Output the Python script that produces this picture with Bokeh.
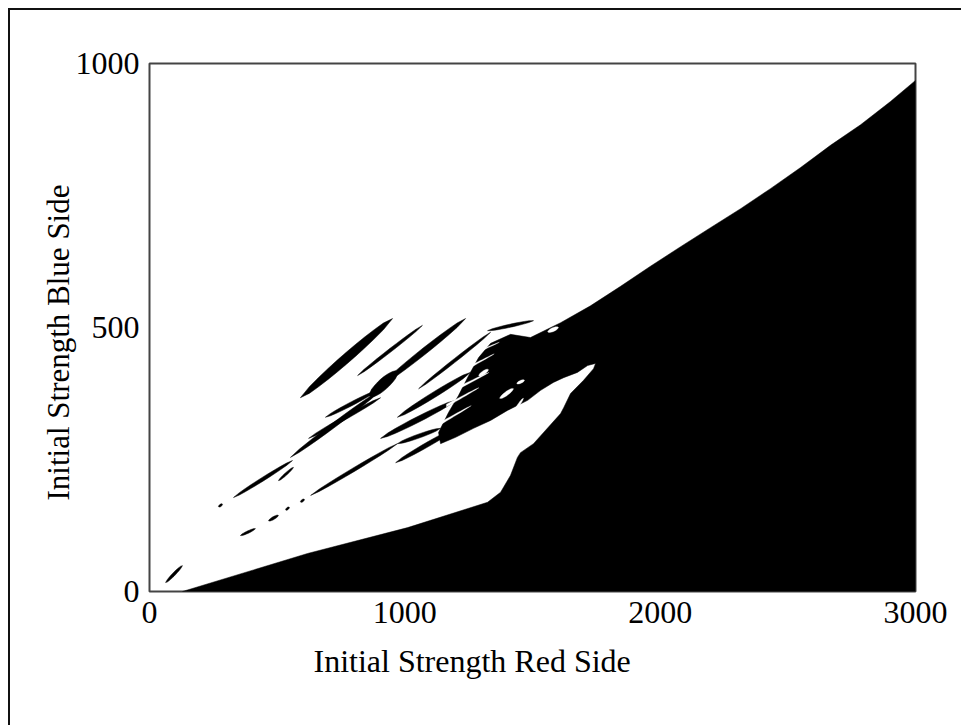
import numpy as np
from bokeh.plotting import figure
from bokeh.models import FixedTicker, Range1d, Title
from bokeh.embed import file_html
from bokeh.resources import INLINE

# ---- data ----
x_ticks = [0, 1000, 2000, 3000]
y_ticks = [0, 500, 1000]

# main black region boundary (data coords)
main_x = [129, 619, 1011, 1324, 1375, 1414, 1441, 1453, 1504, 1610, 1622, 1649, 1700, 1739, 1747,
          1716, 1676, 1622, 1582, 1532, 1481, 1402, 1336, 1269, 1199, 1140,
          1132, 1171, 1210, 1250, 1289, 1336, 1414, 1492,
          1610, 1727, 1845, 1962, 2080, 2197, 2315, 2432, 2550, 2667, 2785, 2902, 3000, 3000]
main_y = [0, 72, 121, 169, 188, 220, 254, 263, 280, 337, 348, 375, 400, 422, 432,
          428, 415, 405, 396, 381, 362, 343, 324, 309, 292, 280,
          301, 339, 371, 409, 443, 470, 487, 481,
          509, 541, 578, 616, 653, 689, 725, 763, 803, 845, 884, 928, 968, 0]

# black streaks: start, end, max vertical thickness
streak_x0 = [591, 815, 905, 858, 552, 329, 689, 623, 505, 270, 631, 971, 356, 466, 533, 591, 63,
             1054, 971, 905, 964, 1324]
streak_y0 = [367, 409, 390, 371, 254, 178, 330, 290, 210, 161, 182, 280, 106, 134, 155, 170, 17,
             384, 330, 290, 244, 494]
streak_x1 = [952, 1069, 1238, 975, 905, 560, 893, 905, 564, 286, 971, 1140, 415, 505, 548, 607, 129,
             1336, 1257, 1199, 1218, 1504]
streak_y1 = [517, 504, 517, 415, 381, 248, 381, 367, 235, 165, 280, 309, 119, 144, 159, 174, 49,
             491, 415, 362, 314, 513]
streak_t = [23, 8, 15, 27, 11, 8, 8, 8, 6, 5, 8, 8, 5, 6, 5, 5, 8,
            8, 12, 12, 10, 6]

# white slits opening into the dense cluster from its left side
cut_x0 = [1124, 1163, 1203, 1242, 1281]
cut_y0 = [314, 352, 384, 422, 453]
cut_x1 = [1260, 1290, 1330, 1350, 1370]
cut_y1 = [352, 386, 415, 450, 472]
cut_t = [5, 5, 5, 4, 3]

# small white specks inside the cluster
speck_x0 = [1289, 1371, 1438, 1430, 1559]
speck_y0 = [409, 366, 394, 343, 492]
speck_x1 = [1328, 1426, 1469, 1465, 1602]
speck_y1 = [420, 384, 400, 366, 500]
speck_t = [8, 9, 6, 7, 8]


def shape(x0, y0, x1, y1, t, kind="lens"):
    fr = np.linspace(0, 1, 11)
    if kind == "lens":
        prof = np.sqrt(np.sin(np.pi * fr))
    else:
        prof = np.sqrt(1 - fr)
    ux = x0 + (x1 - x0) * fr
    uy = y0 + (y1 - y0) * fr
    xs = list(ux) + list(ux[::-1])
    ys = list(uy + prof * t / 2) + list((uy - prof * t / 2)[::-1])
    return xs, ys


p = figure(width=953, height=717, output_backend="svg", toolbar_location=None,
           x_range=Range1d(0, 3000), y_range=Range1d(0, 1000),
           min_border_left=139, min_border_right=48, min_border_top=53, min_border_bottom=136)
p.styles = {"border-left": "2px solid #111", "border-top": "2px solid #111",
            "margin-left": "8px", "margin-top": "8px"}
p.grid.visible = False
p.background_fill_color = "white"
p.border_fill_color = "white"
p.outline_line_color = "#444444"
p.outline_line_width = 2

p.patch(main_x, main_y, fill_color="black", line_color="black", line_width=0.5)

sx, sy = [], []
for a in zip(streak_x0, streak_y0, streak_x1, streak_y1, streak_t):
    xs, ys = shape(*a)
    sx.append(xs); sy.append(ys)
p.patches(sx, sy, fill_color="black", line_color="black", line_width=0.5)

wx, wy = [], []
for a in zip(cut_x0, cut_y0, cut_x1, cut_y1, cut_t):
    xs, ys = shape(*a, kind="taper")
    wx.append(xs); wy.append(ys)
for a in zip(speck_x0, speck_y0, speck_x1, speck_y1, speck_t):
    xs, ys = shape(*a)
    wx.append(xs); wy.append(ys)
p.patches(wx, wy, fill_color="white", line_color="white", line_width=0.3)

for ax, ticks in ((p.xaxis, x_ticks), (p.yaxis, y_ticks)):
    ax.ticker = FixedTicker(ticks=ticks)
    ax.major_tick_line_color = None
    ax.minor_tick_line_color = None
    ax.major_tick_in = 0
    ax.major_tick_out = 0
    ax.axis_line_color = None
    ax.major_label_text_font = "Liberation Serif"
    ax.major_label_text_font_size = "32px"
    ax.major_label_text_color = "black"
    ax.major_label_standoff = 10

p.add_layout(Title(text="Initial Strength Red Side", align="left", offset=164, standoff=31,
                   text_font="Liberation Serif", text_font_size="32px", text_font_style="normal",
                   text_color="black"), "below")
p.add_layout(Title(text="Initial Strength Blue Side", align="left", offset=91, standoff=-6,
                   text_font="Liberation Serif", text_font_size="31px", text_font_style="normal",
                   text_color="black"), "left")

open("out.html", "w").write(file_html(p, INLINE))
